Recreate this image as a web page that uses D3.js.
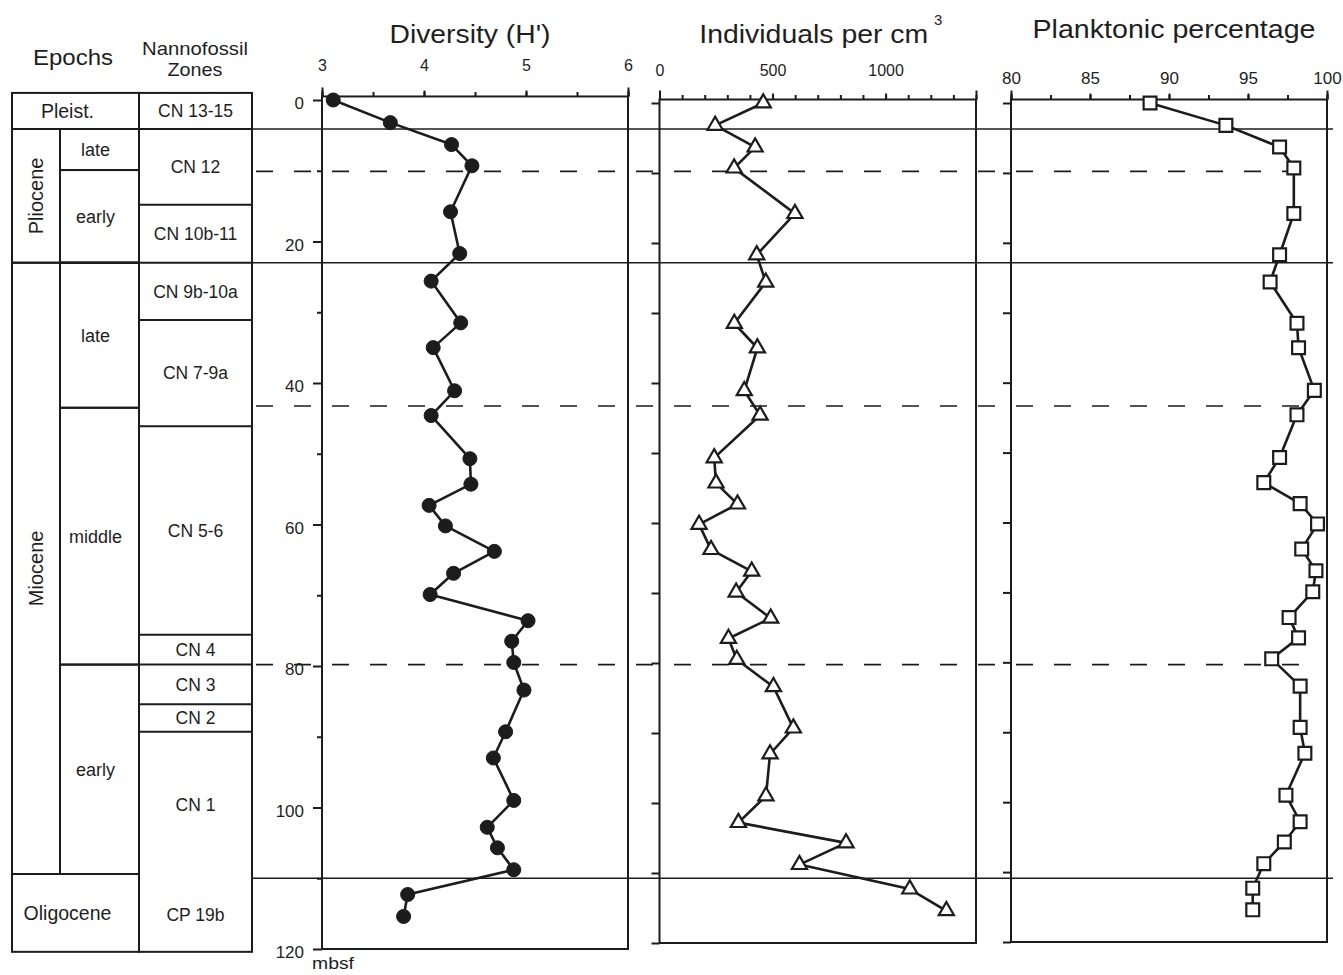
<!DOCTYPE html>
<html>
<head>
<meta charset="utf-8">
<script src="https://cdn.jsdelivr.net/npm/d3@7"></script>
<style>
  body { margin: 0; background: #fff; }
  svg { display: block; }
  text { font-family: "Liberation Sans", Arial, Helvetica, sans-serif; fill: #1e1e1e; }
</style>
</head>
<body>
<svg id="chart" width="1343" height="975"></svg>
<script>
// ---- Sample depths (mbsf), shared by the three down-hole profiles ----
const depths = [0, 3.2, 6.3, 9.3, 15.8, 21.7, 25.6, 31.5, 35.0, 41.1, 44.6, 50.7, 54.3, 57.3, 60.2,
                63.8, 66.9, 69.9, 73.6, 76.5, 79.5, 83.4, 89.3, 93.0, 99.0, 102.8, 105.7, 108.8, 112.3, 115.4];

// Shannon diversity H'
const diversity = [3.11, 3.67, 4.27, 4.47, 4.26, 4.35, 4.07, 4.36, 4.09, 4.30, 4.07, 4.45, 4.46, 4.05, 4.21,
                   4.69, 4.29, 4.06, 5.02, 4.86, 4.88, 4.98, 4.80, 4.68, 4.88, 4.62, 4.72, 4.88, 3.84, 3.80];

// Benthic foraminifera per cubic centimetre
const individuals = [459, 246, 423, 330, 599, 430, 470, 331, 433, 375, 445, 242, 250, 345, 175,
                     228, 408, 339, 492, 305, 342, 504, 592, 489, 471, 349, 825, 619, 1107, 1269];

// Planktonic percentage
const planktonic = [88.8, 93.6, 97.0, 97.9, 97.9, 97.0, 96.4, 98.1, 98.2, 99.2, 98.1, 97.0, 96.0, 98.3, 99.4,
                    98.4, 99.3, 99.1, 97.6, 98.2, 96.5, 98.3, 98.3, 98.6, 97.4, 98.3, 97.3, 96.0, 95.3, 95.3];

// ---- Tick values ----
const depthTicks = [0, 20, 40, 60, 80, 100, 120];
const diversityTicks = [3, 4, 5, 6];
const individualsTicks = [0, 500, 1000];
const planktonicTicks = [80, 85, 90, 95, 100];

// ---- Stratigraphy (depths in mbsf) ----
const epochs = [
  { name: "Pleist.",   top: -1,    base: 4.1,   split: false },
  { name: "Pliocene",  top: 4.1,   base: 23.0,  split: true },
  { name: "Miocene",   top: 23.0,  base: 109.4, split: true },
  { name: "Oligocene", top: 109.4, base: 120.4, split: false }
];
const subEpochs = [
  { name: "late",   top: 4.1,  base: 9.9 },
  { name: "early",  top: 9.9,  base: 23.0 },
  { name: "late",   top: 23.0, base: 43.5 },
  { name: "middle", top: 43.5, base: 79.8 },
  { name: "early",  top: 79.8, base: 109.4 }
];
const zones = [
  { name: "CN 13-15",  top: -1,    base: 4.1,   closed: true },
  { name: "CN 12",     top: 4.1,   base: 14.8,  closed: true },
  { name: "CN 10b-11", top: 14.8,  base: 23.0,  closed: true },
  { name: "CN 9b-10a", top: 23.0,  base: 31.1,  closed: true },
  { name: "CN 7-9a",   top: 31.1,  base: 46.1,  closed: true },
  { name: "CN 5-6",    top: 46.1,  base: 75.6,  closed: true },
  { name: "CN 4",      top: 75.6,  base: 79.8,  closed: true },
  { name: "CN 3",      top: 79.8,  base: 85.4,  closed: true },
  { name: "CN 2",      top: 85.4,  base: 89.3,  closed: true },
  { name: "CN 1",      top: 89.3,  base: 110.0, closed: false },
  { name: "CP 19b",    top: 110.0, base: 120.4, closed: true }
];
// Boundaries carried across the profiles
const boundaries = [
  { depth: 4.1,   dashed: false },
  { depth: 10.1,  dashed: true },
  { depth: 23.0,  dashed: false },
  { depth: 43.25, dashed: true },
  { depth: 79.8,  dashed: true },
  { depth: 110.0, dashed: false }
];

// ---- Layout ----
const ink = "#1c1c1c";
const svg = d3.select("#chart");

const yMain = d3.scaleLinear().domain([0, 120]).range([100, 949]);

const panels = [
  { key: "div", title: "Diversity (H')", titleW: 161, titleY: 43,
    x: d3.scaleLinear().domain([3, 6]).range([322, 628]),
    y: yMain, values: diversity, ticks: diversityTicks, minor: 0.5, labelGap: 25, fmt: d3.format("d"), marker: "circle" },
  { key: "ind", title: "Individuals per cm", titleW: 229, titleY: 43,
    x: d3.scaleLinear().domain([0, 1400]).range([659.5, 976]),
    y: d3.scaleLinear().domain([0, 120]).range([103, 943]),
    values: individuals, ticks: individualsTicks, minor: 100, labelGap: 24, fmt: d3.format("d"), marker: "triangle" },
  { key: "pla", title: "Planktonic percentage", titleW: 283, titleY: 38,
    x: d3.scaleLinear().domain([80, 100]).range([1011, 1327]),
    y: d3.scaleLinear().domain([0, 120]).range([103, 942]),
    values: planktonic, ticks: planktonicTicks, minor: 2.5, labelGap: 16, fmt: d3.format("d"), marker: "square" }
];

// ---- Stratigraphic columns ----
const colEpoch = [12, 139], colSplit = 60, colZone = [139, 252];
const strat = svg.append("g").attr("fill", "none").attr("stroke", ink).attr("stroke-width", 2);

epochs.forEach(e => {
  strat.append("rect")
    .attr("x", colEpoch[0]).attr("y", yMain(e.top))
    .attr("width", colEpoch[1] - colEpoch[0]).attr("height", yMain(e.base) - yMain(e.top));
});
subEpochs.forEach(s => {
  strat.append("rect")
    .attr("x", colSplit).attr("y", yMain(s.top))
    .attr("width", colEpoch[1] - colSplit).attr("height", yMain(s.base) - yMain(s.top));
});
// zone column outline plus internal boundaries
strat.append("rect")
  .attr("x", colZone[0]).attr("y", yMain(zones[0].top))
  .attr("width", colZone[1] - colZone[0])
  .attr("height", yMain(zones[zones.length - 1].base) - yMain(zones[0].top));
strat.selectAll("line.zb").data(zones.filter(z => z.closed).slice(0, -1)).join("line")
  .attr("x1", colZone[0]).attr("x2", colZone[1])
  .attr("y1", z => yMain(z.base)).attr("y2", z => yMain(z.base));

const labels = svg.append("g").attr("text-anchor", "middle");
epochs.forEach(e => {
  const cy = (yMain(e.top) + yMain(e.base)) / 2;
  if (e.split) {
    const cx = (colEpoch[0] + colSplit) / 2;
    labels.append("text")
      .attr("transform", `translate(${cx + 7},${cy}) rotate(-90)`)
      .attr("font-size", 20).text(e.name);
  } else {
    labels.append("text")
      .attr("x", (colEpoch[0] + colEpoch[1]) / 2 - 8).attr("y", cy).attr("dy", "0.36em")
      .attr("font-size", 19.5).text(e.name);
  }
});
subEpochs.forEach(s => {
  labels.append("text")
    .attr("x", (colSplit + colEpoch[1]) / 2 - 4)
    .attr("y", (yMain(s.top) + yMain(s.base)) / 2).attr("dy", "0.36em")
    .attr("font-size", 18).text(s.name);
});
zones.forEach(z => {
  labels.append("text")
    .attr("x", (colZone[0] + colZone[1]) / 2)
    .attr("y", (yMain(z.top) + yMain(z.base)) / 2).attr("dy", "0.36em")
    .attr("font-size", 17.5).text(z.name);
});
labels.append("text").attr("x", 73).attr("y", 65).attr("font-size", 22)
  .attr("textLength", 80).attr("lengthAdjust", "spacingAndGlyphs").text("Epochs");
labels.append("text").attr("x", 195).attr("y", 55).attr("font-size", 19)
  .attr("textLength", 106).attr("lengthAdjust", "spacingAndGlyphs").text("Nannofossil");
labels.append("text").attr("x", 195).attr("y", 76).attr("font-size", 19)
  .attr("textLength", 55).attr("lengthAdjust", "spacingAndGlyphs").text("Zones");

// ---- Boundary lines across the profiles ----
const cross = svg.append("g").attr("stroke", ink).attr("stroke-width", 1.7);
cross.selectAll("line").data(boundaries).join("line")
  .attr("x1", b => b.dashed ? 256 : colZone[1])
  .attr("x2", b => b.dashed ? 1318 : 1333)
  .attr("y1", b => yMain(b.depth)).attr("y2", b => yMain(b.depth))
  .attr("stroke-dasharray", b => b.dashed ? "17,21" : null);

// ---- Panels ----
function styleAxis(g) {
  g.select(".domain").remove();
  g.selectAll(".tick line").attr("stroke", ink).attr("stroke-width", 2);
  g.selectAll(".tick text").attr("fill", ink).attr("font-family", '"Liberation Sans", Arial, sans-serif');
}

panels.forEach(p => {
  const [x0, x1] = p.x.range();
  const yTop = p.y(-0.5), yBot = p.y(120);
  const g = svg.append("g");

  // depth ticks on the left edge
  const minorDepth = d3.range(0, 121, 10);
  if (p.key === "div") {
    g.append("g").attr("transform", `translate(${x0},0)`)
      .call(d3.axisLeft(p.y).tickValues(minorDepth.filter(d => d % 20)).tickSize(5).tickFormat(""))
      .call(styleAxis);
    g.append("g").attr("transform", `translate(${x0},0)`)
      .call(d3.axisLeft(p.y).tickValues(depthTicks).tickSize(9).tickPadding(9))
      .call(styleAxis)
      .call(a => a.selectAll(".tick text").attr("font-size", 17).attr("dy", "0.52em"));
  } else {
    g.append("g").attr("transform", `translate(${x0},0)`)
      .call(d3.axisLeft(p.y).tickValues(minorDepth).tickSize(8).tickFormat(""))
      .call(styleAxis);
  }

  // value ticks on the top edge
  const [d0, d1] = p.x.domain();
  g.append("g").attr("transform", `translate(0,${yTop})`)
    .call(d3.axisTop(p.x).tickValues(d3.range(d0, d1 + p.minor / 2, p.minor)).tickSize(4.5).tickFormat(""))
    .call(styleAxis);
  g.append("g").attr("transform", `translate(0,${yTop})`)
    .call(d3.axisTop(p.x).tickValues([d0, d1]).tickSize(9).tickFormat(""))
    .call(styleAxis);
  g.append("g").attr("transform", `translate(0,${yTop})`)
    .call(d3.axisTop(p.x).tickValues(p.ticks).tickSize(6).tickPadding(p.labelGap - 6).tickFormat(p.fmt))
    .call(styleAxis)
    .call(a => a.selectAll(".tick text").attr("font-size", p.key === "pla" ? 17 : 16).attr("dy", "0em"));

  // frame
  g.append("rect").attr("x", x0).attr("y", yTop).attr("width", x1 - x0).attr("height", yBot - yTop)
    .attr("fill", "none").attr("stroke", ink).attr("stroke-width", 2);

  // title
  g.append("text").attr("x", (x0 + x1) / 2 + (p.key === "div" ? -5 : p.key === "ind" ? -4 : 5))
    .attr("y", p.titleY).attr("text-anchor", "middle").attr("font-size", 26)
    .attr("textLength", p.titleW).attr("lengthAdjust", "spacingAndGlyphs").text(p.title);

  // profile
  const pts = depths.map((d, i) => [p.x(p.values[i]), p.y(d)]);
  g.append("path").attr("d", d3.line()(pts))
    .attr("fill", "none").attr("stroke", ink).attr("stroke-width", 2.6).attr("stroke-linejoin", "round");

  const sym = p.marker === "circle" ? d3.symbol(d3.symbolCircle, 155)
            : p.marker === "triangle" ? d3.symbol(d3.symbolTriangle, 100)
            : d3.symbol(d3.symbolSquare, 165);
  g.selectAll("path.mk").data(pts).join("path").attr("class", "mk")
    .attr("transform", d => `translate(${d[0]},${d[1]})`)
    .attr("d", sym)
    .attr("fill", p.marker === "circle" ? ink : "#fff")
    .attr("stroke", ink).attr("stroke-width", p.marker === "circle" ? 1 : 2.2);
});

// superscript and depth unit
svg.append("text").attr("x", 934).attr("y", 25).attr("font-size", 15).text("3");
svg.append("text").attr("x", 312).attr("y", 969).attr("font-size", 17)
  .attr("textLength", 42).attr("lengthAdjust", "spacingAndGlyphs").text("mbsf");
</script>
</body>
</html>
